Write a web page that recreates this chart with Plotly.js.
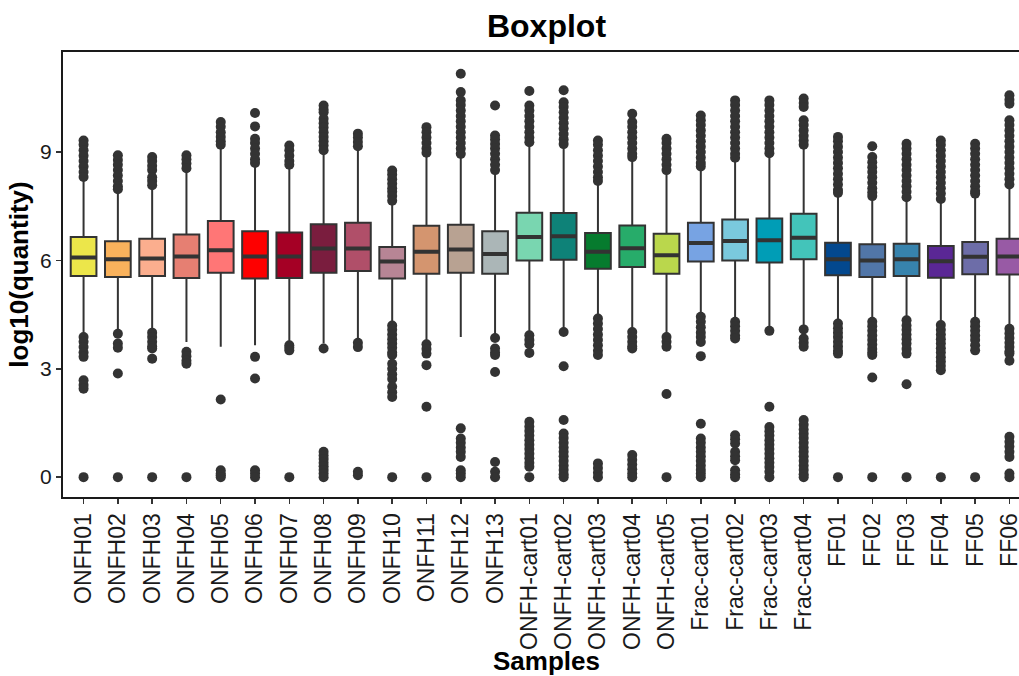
<!DOCTYPE html>
<html><head><meta charset="utf-8">
<script src="https://cdn.plot.ly/plotly-3.0.1.min.js"></script>
<style>html,body{margin:0;padding:0;overflow:hidden;background:#fff}</style>
</head><body><div id="chart" style="width:1040px;height:676px"></div>
<script>
const samples = ["ONFH01","ONFH02","ONFH03","ONFH04","ONFH05","ONFH06","ONFH07","ONFH08","ONFH09","ONFH10","ONFH11","ONFH12","ONFH13",
  "ONFH-cart01","ONFH-cart02","ONFH-cart03","ONFH-cart04","ONFH-cart05",
  "Frac-cart01","Frac-cart02","Frac-cart03","Frac-cart04",
  "FF01","FF02","FF03","FF04","FF05","FF06"];
const colors = ["#ECE64A","#F9B25C","#FBAE8E","#E67F72","#FF7676","#FE0000","#A50025","#7A1D3E","#B04F69","#B78595","#D4956F","#B8A292","#ABB6B7",
  "#79D6B0","#0E8278","#067B2E","#27AC6A","#BAD74C",
  "#77A3E3","#7AC9DD","#009DB6","#43C4BA",
  "#03488E","#5176A8","#3783AD","#5A2795","#6D6DA8","#985AA5"];
const q1     = [5.57,5.54,5.57,5.51,5.66,5.50,5.51,5.66,5.71,5.50,5.63,5.66,5.63, 6.00,6.02,5.77,5.82,5.63, 5.97,6.00,5.94,6.03, 5.59,5.54,5.57,5.52,5.62,5.61];
const median = [6.08,6.03,6.05,6.11,6.28,6.11,6.11,6.33,6.33,5.97,6.24,6.30,6.18, 6.65,6.67,6.24,6.34,6.14, 6.48,6.54,6.56,6.63, 6.03,6.00,6.03,5.98,6.10,6.11];
const q3     = [6.65,6.53,6.60,6.72,7.09,6.81,6.77,7.00,7.04,6.37,6.96,6.99,6.81, 7.32,7.31,6.76,6.97,6.74, 7.04,7.13,7.16,7.29, 6.49,6.45,6.46,6.40,6.51,6.60];
const lowerWhisker = [3.97,4.07,4.11,3.74,3.61,3.65,3.70,3.70,3.80,4.25,3.75,3.88,3.90, 3.97,4.07,4.42,4.10,3.95, 4.47,4.33,4.12,4.15, 4.28,4.33,4.37,4.24,4.33,4.14];
const upperWhisker = [8.25,7.90,8.00,8.45,9.15,8.65,8.60,8.98,9.10,7.55,8.90,8.85,8.45, 9.20,9.15,8.15,8.82,8.40, 8.55,8.78,8.90,9.15, 7.82,7.72,7.68,7.63,7.82,8.05];
const outliers = [
  [9.32,9.2,9.05,8.9,8.75,8.6,8.45,8.31, 3.88,3.75,3.6,3.45,3.33,2.68,2.55,2.45,0],
  [8.91,8.78,8.65,8.5,8.35,8.2,8.05,7.97, 3.97,3.7,3.58,2.87,0],
  [8.86,8.75,8.62,8.5,8.3,8.2,8.08, 4.0,3.88,3.75,3.62,3.56,3.28,0],
  [8.91,8.8,8.68,8.55, 3.47,3.35,3.22,3.14,0],
  [9.83,9.7,9.55,9.42,9.3,9.2, 2.15,0.19,0.1,0.05,0],
  [10.08,9.71,9.37,9.25,9.1,8.95,8.8,8.7, 3.33,2.73,0.19,0.1,0],
  [9.18,9.05,8.9,8.75,8.65, 3.65,3.58,3.51,0],
  [10.29,10.18,10.1,9.92,9.8,9.68,9.55,9.42,9.3,9.18,9.05, 3.56,0.7,0.6,0.5,0.4,0.3,0.2,0.1,0],
  [9.51,9.4,9.28,9.16, 3.72,3.6,0.15,0.05],
  [8.49,8.38,8.25,8.12,8.0,7.9,7.78,7.65, 4.2,4.08,3.95,3.82,3.7,3.58,3.45,3.38,3.14,3.0,2.85,2.72,2.5,2.35,2.22,0],
  [9.69,9.55,9.4,9.25,9.1,8.98, 3.68,3.55,3.42,3.1,1.95,0],
  [11.17,10.66,10.43,10.3,10.15,10.0,9.85,9.7,9.55,9.4,9.25,9.1,8.95, 1.35,1.07,0.95,0.82,0.7,0.56,0.19,0.1,0],
  [10.29,9.46,9.35,9.22,9.1,8.95,8.8,8.65,8.5, 3.85,3.56,3.45,3.38,2.91,0.42,0.15,0],
  [10.69,10.29,10.15,10.0,9.85,9.7,9.55,9.4,9.27, 3.93,3.8,3.68,3.44,1.53,1.4,1.28,1.15,1.02,0.9,0.78,0.65,0.52,0.4,0.29,0],
  [10.71,10.38,10.25,10.1,9.95,9.8,9.65,9.5,9.35,9.22, 4.02,3.07,1.58,1.21,1.08,0.95,0.82,0.7,0.58,0.45,0.32,0.2,0.08,0],
  [9.32,9.2,9.05,8.9,8.75,8.6,8.45,8.3,8.2, 4.39,4.25,4.1,3.95,3.8,3.65,3.5,3.38,0.38,0.25,0.12,0],
  [10.06,9.83,9.7,9.55,9.4,9.25,9.1,8.95,8.86, 4.02,3.88,3.75,3.62,3.56,0.61,0.48,0.35,0.22,0.1,0],
  [9.37,9.25,9.1,8.95,8.8,8.65,8.5, 3.88,3.75,3.61,2.3,0],
  [10.01,9.88,9.75,9.6,9.45,9.3,9.15,9.0,8.85,8.7,8.6, 4.44,4.3,4.15,4.0,3.88,3.74,3.35,1.48,1.07,0.95,0.82,0.7,0.58,0.45,0.32,0.2,0.1,0],
  [10.43,10.3,10.15,10.0,9.85,9.7,9.55,9.4,9.25,9.1,8.95,8.84, 4.3,4.18,4.05,3.92,3.84,1.16,1.05,0.93,0.7,0.58,0.47,0.19,0.08,0],
  [10.43,10.3,10.15,10.0,9.85,9.7,9.55,9.4,9.25,9.1,8.97, 4.05,1.95,1.39,1.27,1.15,1.02,0.9,0.78,0.65,0.52,0.4,0.28,0.15,0],
  [10.48,10.36,10.25,9.88,9.75,9.6,9.45,9.32,9.2, 4.09,3.84,3.72,3.61,1.58,1.45,1.32,1.2,1.08,0.95,0.82,0.7,0.58,0.45,0.32,0.2,0.08,0],
  [9.42,9.3,9.15,9.0,8.85,8.7,8.55,8.4,8.25,8.1,7.95,7.87, 4.25,4.12,4.0,3.88,3.75,3.62,3.5,3.42,0],
  [9.16,8.86,8.72,8.58,8.45,8.3,8.15,8.0,7.88,7.78, 4.3,4.18,4.05,3.92,3.8,3.67,3.55,3.45,3.38,2.76,0],
  [9.23,9.1,8.95,8.8,8.65,8.5,8.35,8.2,8.05,7.9,7.75, 4.34,4.2,4.08,3.95,3.82,3.7,3.55,3.42,2.57,0],
  [9.32,9.2,9.05,8.9,8.75,8.6,8.45,8.3,8.15,8.0,7.85,7.7, 4.21,4.08,3.95,3.82,3.7,3.57,3.45,3.32,3.2,3.08,2.96,0],
  [9.23,9.1,8.95,8.8,8.65,8.5,8.35,8.2,8.05,7.92,7.85, 4.3,4.18,4.05,3.92,3.8,3.65,3.51,0],
  [10.57,10.45,10.34,9.88,9.75,9.6,9.45,9.3,9.15,9.0,8.85,8.7,8.55,8.4,8.25,8.1, 4.11,3.98,3.85,3.72,3.6,3.48,3.42,3.22,1.12,0.98,0.85,0.7,0.56,0.1,0]
];
const yTicks = [0,3,6,9];

const INK = '#333333';
const FONT = 'Liberation Sans, Arial, sans-serif';
const traces = [];
samples.forEach((s, i) => {
  traces.push({
    type: 'box', x: [s], q1: [q1[i]], median: [median[i]], q3: [q3[i]],
    lowerfence: [lowerWhisker[i]], upperfence: [upperWhisker[i]],
    width: 0.75, whiskerwidth: 0, boxpoints: false,
    fillcolor: colors[i], line: {color: INK, width: 2},
    showlegend: false, hoverinfo: 'skip'
  });
});
samples.forEach((s, i) => {
  traces.push({
    type: 'box', x: [s], q1: [median[i]], median: [median[i]], q3: [median[i]],
    lowerfence: [median[i]], upperfence: [median[i]],
    width: 0.75, whiskerwidth: 0, boxpoints: false,
    fillcolor: 'rgba(0,0,0,0)', line: {color: INK, width: 4},
    showlegend: false, hoverinfo: 'skip'
  });
});
samples.forEach((s, i) => {
  traces.push({
    type: 'scatter', mode: 'markers', x: outliers[i].map(() => s), y: outliers[i],
    marker: {color: INK, size: 10, line: {width: 0}},
    showlegend: false, hoverinfo: 'skip', cliponaxis: false
  });
});

const layout = {
  width: 1040, height: 676,
  margin: {l: 63, r: 10, t: 52, b: 179},
  paper_bgcolor: '#fff', plot_bgcolor: '#fff',
  boxmode: 'overlay',
  showlegend: false,
  font: {family: FONT, color: '#1a1a1a'},
  title: {text: '<b>Boxplot</b>', font: {family: FONT, size: 32, color: '#000'},
          x: 0.5, xref: 'paper', y: 0.962, yref: 'container', yanchor: 'middle'},
  xaxis: {
    type: 'category', categoryorder: 'array', categoryarray: samples,
    range: [-0.6, 27.6], tickangle: -90,
    tickfont: {family: FONT, size: 23, color: '#1a1a1a'},
    ticks: 'outside', ticklen: 5, tickwidth: 1.5, tickcolor: INK,
    showline: true, linecolor: '#1a1a1a', linewidth: 2, mirror: true,
    showgrid: false, zeroline: false, automargin: false,
    title: {text: '<b>Samples</b>', font: {family: FONT, size: 26, color: '#000'}, standoff: 0}
  },
  yaxis: {
    range: [-0.55, 11.77], tickvals: yTicks, ticktext: yTicks.map(String),
    tickfont: {family: FONT, size: 21, color: '#1a1a1a'},
    ticks: 'outside', ticklen: 5, tickwidth: 1.5, tickcolor: INK,
    showline: true, linecolor: '#1a1a1a', linewidth: 2, mirror: true,
    showgrid: false, zeroline: false, automargin: false,
    title: {text: '<b>log10(quantity)</b>', font: {family: FONT, size: 26, color: '#000'}, standoff: 4}
  }
};
Plotly.newPlot('chart', traces, layout, {displayModeBar: false, staticPlot: true});
</script></body></html>
